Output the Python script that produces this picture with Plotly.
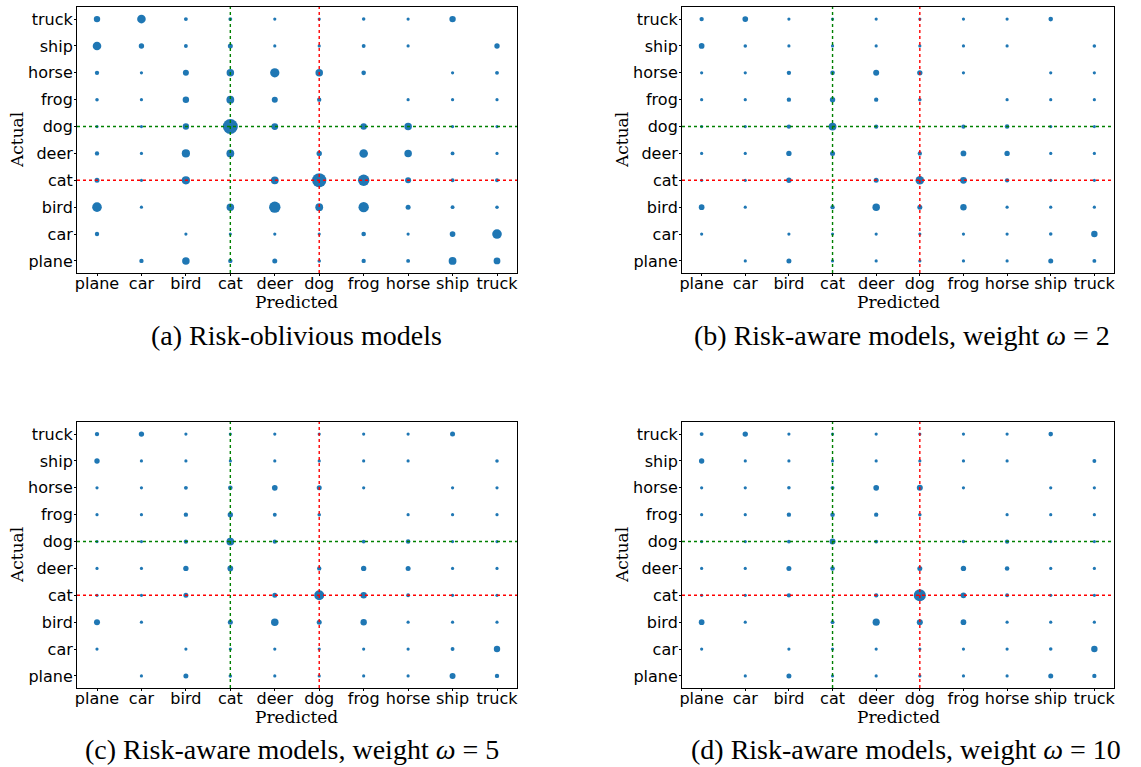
import plotly.graph_objects as go

classes = ["plane", "car", "bird", "cat", "deer", "dog", "frog", "horse", "ship", "truck"]

# rows = actual class, columns = predicted class (diagonal not drawn)
panel_a_counts = [
    [0, 15, 45, 15, 20, 10, 15, 12, 49, 37],
    [15, 0, 5, 8, 5, 5, 17, 4, 26, 74],
    [74, 5, 0, 45, 104, 49, 86, 20, 12, 10],
    [20, 4, 54, 0, 49, 163, 104, 29, 12, 12],
    [15, 5, 54, 49, 0, 23, 59, 45, 12, 5],
    [7, 3, 33, 180, 37, 0, 33, 45, 3, 5],
    [10, 4, 33, 49, 29, 15, 0, 4, 4, 4],
    [15, 3, 29, 45, 69, 45, 17, 0, 5, 12],
    [59, 23, 12, 20, 7, 7, 12, 7, 0, 23],
    [33, 59, 12, 12, 7, 4, 10, 7, 33, 0],
]
panel_b_counts = [
    [0, 7, 20, 8, 8, 4, 7, 7, 20, 12],
    [7, 0, 2, 3, 2, 3, 7, 1, 10, 33],
    [26, 3, 0, 15, 45, 20, 33, 8, 5, 5],
    [8, 2, 23, 0, 20, 59, 37, 15, 5, 5],
    [7, 3, 23, 20, 0, 15, 26, 23, 5, 3],
    [3, 2, 15, 49, 15, 0, 15, 17, 2, 3],
    [5, 2, 15, 23, 15, 10, 0, 3, 3, 4],
    [7, 2, 15, 17, 29, 23, 7, 0, 3, 7],
    [26, 10, 5, 7, 4, 3, 5, 3, 0, 10],
    [15, 26, 7, 7, 4, 2, 5, 4, 17, 0],
]
panel_c_counts = [
    [0, 5, 20, 10, 8, 4, 5, 5, 29, 15],
    [5, 0, 3, 4, 3, 4, 5, 2, 12, 33],
    [29, 4, 0, 20, 45, 20, 33, 8, 7, 5],
    [8, 2, 20, 0, 20, 80, 33, 12, 5, 7],
    [7, 3, 23, 26, 0, 15, 23, 20, 7, 3],
    [3, 2, 15, 49, 15, 0, 12, 17, 1, 3],
    [5, 3, 15, 23, 12, 10, 0, 3, 4, 3],
    [7, 2, 12, 17, 26, 20, 5, 0, 4, 8],
    [23, 8, 4, 7, 4, 4, 4, 3, 0, 10],
    [15, 23, 5, 7, 4, 2, 5, 4, 20, 0],
]
panel_d_counts = [
    [0, 5, 20, 8, 8, 5, 7, 7, 20, 15],
    [7, 0, 2, 4, 3, 4, 7, 2, 10, 33],
    [26, 3, 0, 12, 41, 29, 26, 8, 5, 4],
    [7, 1, 15, 0, 15, 118, 26, 12, 4, 5],
    [5, 3, 20, 17, 0, 20, 23, 17, 4, 3],
    [3, 1, 12, 29, 12, 0, 10, 15, 1, 3],
    [4, 2, 15, 17, 15, 10, 0, 3, 3, 3],
    [7, 1, 10, 12, 26, 29, 7, 0, 3, 7],
    [23, 8, 4, 7, 4, 4, 4, 3, 0, 12],
    [12, 23, 4, 5, 3, 3, 5, 4, 17, 0],
]
captions = [
    "(a) Risk-oblivious models",
    "(b) Risk-aware models, weight <i>ω</i> = 2",
    "(c) Risk-aware models, weight <i>ω</i> = 5",
    "(d) Risk-aware models, weight <i>ω</i> = 10",
]
panels = [panel_a_counts, panel_b_counts, panel_c_counts, panel_d_counts]

W, H = 1141, 767
# axes boxes in pixels: (left, right, top, bottom)
boxes = [(77, 517, 7, 273), (682, 1114, 7, 273), (77, 517, 422, 688), (682, 1114, 422, 688)]
caption_x = [296, 902, 292, 906]
caption_y = [335, 335, 749, 749]

BLUE = "#1f77b4"
max_count = max(max(r) for p in panels for r in p)
max_diam = 15
sizeref = 2.0 * max_count / (max_diam ** 2)

fig = go.Figure()
shapes = []
annotations = []
tick_font = dict(family="DejaVu Sans", size=16, color="black")
title_font = dict(family="DejaVu Serif", size=17, color="black")

for k, (counts, box) in enumerate(zip(panels, boxes)):
    xs, ys, ss = [], [], []
    for i, actual in enumerate(classes):
        for j, pred in enumerate(classes):
            if i == j:
                continue
            xs.append(pred)
            ys.append(actual)
            ss.append(counts[i][j])
    n = "" if k == 0 else str(k + 1)
    fig.add_trace(go.Scatter(
        x=xs, y=ys, mode="markers", xaxis="x" + n, yaxis="y" + n,
        marker=dict(size=ss, sizemode="area", sizeref=sizeref, sizemin=1.6,
                    color=BLUE, opacity=1, line=dict(width=0)),
        showlegend=False, hoverinfo="x+y",
    ))
    l, r, t, b = box
    axis_common = dict(
        type="category", categoryorder="array", categoryarray=classes,
        range=[-0.45, 9.45], showgrid=False, zeroline=False,
        showline=True, linecolor="black", linewidth=1, mirror=True,
        ticks="outside", ticklen=2, tickcolor="black", tickwidth=1,
        tickfont=tick_font, automargin=False,
    )
    fig.update_layout(**{
        "xaxis" + n: dict(axis_common, domain=[l / W, r / W], anchor="y" + n,
                          ticklabelstandoff=-6),
        "yaxis" + n: dict(axis_common, domain=[1 - b / H, 1 - t / H], anchor="x" + n,
                          ticklabelstandoff=-2),
    })
    xr, yr = "x" + n, "y" + n
    i_cat, i_dog = classes.index("cat"), classes.index("dog")
    for idx, col in ((i_cat, "#008000"), (i_dog, "#ff0000")):
        shapes.append(dict(type="line", xref=xr, yref=yr + " domain", x0=idx, x1=idx, y0=0, y1=1,
                           line=dict(color=col, width=1.4, dash="dot"), layer="above"))
    for idx, col in ((i_dog, "#008000"), (i_cat, "#ff0000")):
        shapes.append(dict(type="line", xref=xr + " domain", yref=yr, x0=0, x1=1, y0=idx, y1=idx,
                           line=dict(color=col, width=1.4, dash="dot"), layer="above"))
    # axis titles
    annotations.append(dict(text="Predicted", xref="paper", yref="paper",
                            x=(l + r) / 2 / W, y=1 - (b + 29) / H, showarrow=False,
                            font=title_font, xanchor="center", yanchor="middle"))
    annotations.append(dict(text="Actual", xref="paper", yref="paper",
                            x=(l - 60) / W, y=1 - (t + b) / 2 / H, showarrow=False,
                            font=title_font, textangle=-90, xanchor="center", yanchor="middle"))
    annotations.append(dict(text=captions[k], xref="paper", yref="paper",
                            x=caption_x[k] / W, y=1 - caption_y[k] / H, showarrow=False,
                            font=dict(family="Liberation Serif", size=28, color="black"),
                            xanchor="center", yanchor="middle"))

fig.update_layout(
    width=W, height=H, margin=dict(l=0, r=0, t=0, b=0),
    paper_bgcolor="white", plot_bgcolor="white",
    shapes=shapes, annotations=annotations,
)
fig.write_html("out.html", config={"displayModeBar": False},
               post_script="document.body.style.margin='0px';document.body.style.overflow='hidden';")
